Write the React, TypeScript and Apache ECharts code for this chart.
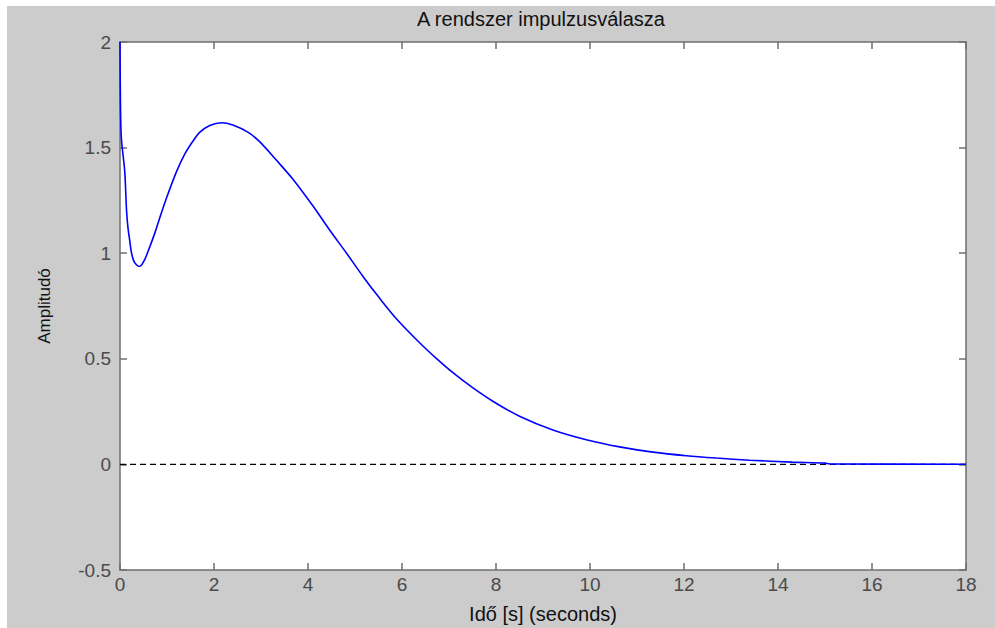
import React, { useEffect, useRef } from "react";
import * as echarts from "echarts";

const titleText = "A rendszer impulzusválasza";
const xAxisName = "Idő [s] (seconds)";
const yAxisName = "Amplitudó";

const timeS = [
  0, 0.01, 0.03, 0.1, 0.14, 0.17, 0.21, 0.24, 0.29, 0.35, 0.4, 0.45, 0.53, 0.6, 0.74, 0.88, 1.02,
  1.2, 1.38, 1.55, 1.7, 1.91, 2.16, 2.4, 2.72, 2.97, 3.33, 3.68, 4.11, 4.46, 4.82, 5.17, 5.53,
  5.88, 6.38, 6.73, 7.09, 7.51, 7.94, 8.5, 9.21, 9.92, 10.63, 11.34, 12.05, 12.69, 13.4, 14.3,
  15.0, 15.1, 18.0,
];
const amplitude = [
  2.0, 1.7, 1.54, 1.39, 1.2, 1.12, 1.055, 1.007, 0.965, 0.945, 0.938, 0.942, 0.972, 1.01, 1.095,
  1.19, 1.28, 1.385, 1.47, 1.53, 1.573, 1.605, 1.618, 1.607, 1.573, 1.528, 1.44, 1.35, 1.222,
  1.11, 1.0, 0.89, 0.785, 0.69, 0.575, 0.502, 0.433, 0.362, 0.298, 0.228, 0.163, 0.117, 0.083,
  0.058, 0.041, 0.03, 0.02, 0.011, 0.006, 0.002, 0.001,
];
const zeroLineX = [0, 18];
const zeroLineY = [0, 0];

const FONT = "'Liberation Sans', Arial, sans-serif";
const AXIS_GRAY = "#6f6f6f";

export default function App() {
  const ref = useRef<HTMLDivElement>(null);

  useEffect(() => {
    if (!ref.current) return;
    const chart = echarts.init(ref.current, undefined, { renderer: "svg" });
    const axisLine = { show: true, onZero: false, lineStyle: { color: AXIS_GRAY, width: 1.5 } };
    const axisTick = { show: true, inside: true, length: 7, lineStyle: { color: AXIS_GRAY, width: 1.5 } };
    chart.setOption({
      animation: false,
      backgroundColor: "transparent",
      title: {
        text: titleText,
        left: 541,
        textAlign: "center",
        top: 9,
        padding: 0,
        textStyle: { fontFamily: FONT, fontSize: 20, fontWeight: "normal", color: "#111" },
      },
      grid: {
        left: 120,
        top: 42,
        right: 29,
        bottom: 58,
        show: true,
        backgroundColor: "#ffffff",
        borderWidth: 0,
        containLabel: false,
        outerBoundsMode: "none",
      },
      xAxis: [
        {
          type: "value",
          position: "bottom",
          min: 0,
          max: 18,
          interval: 2,
          axisLine,
          axisTick,
          splitLine: { show: false },
          axisLabel: { margin: 5, fontFamily: FONT, fontSize: 19, color: "#4a4a4a" },
          name: xAxisName,
          nameLocation: "middle",
          nameGap: 34,
          nameTextStyle: { fontFamily: FONT, fontSize: 20, color: "#111" },
        },
        {
          type: "value",
          position: "top",
          min: 0,
          max: 18,
          interval: 2,
          axisLine,
          axisTick,
          splitLine: { show: false },
          axisLabel: { show: false },
        },
      ],
      yAxis: [
        {
          type: "value",
          position: "left",
          min: -0.5,
          max: 2,
          interval: 0.5,
          axisLine,
          axisTick,
          splitLine: { show: false },
          axisLabel: { margin: 9, fontFamily: FONT, fontSize: 19, color: "#4a4a4a" },
          name: yAxisName,
          nameLocation: "middle",
          nameRotate: 90,
          nameGap: 67,
          nameTextStyle: { fontFamily: FONT, fontSize: 17, color: "#111" },
        },
        {
          type: "value",
          position: "right",
          min: -0.5,
          max: 2,
          interval: 0.5,
          axisLine,
          axisTick,
          splitLine: { show: false },
          axisLabel: { show: false },
        },
      ],
      series: [
        {
          type: "line",
          xAxisIndex: 0,
          yAxisIndex: 0,
          data: zeroLineX.map((x, i) => [x, zeroLineY[i]]),
          showSymbol: false,
          lineStyle: { color: "#000", width: 1.4, type: [6, 4] },
          silent: true,
        },
        {
          type: "line",
          xAxisIndex: 0,
          yAxisIndex: 0,
          data: timeS.map((t, i) => [t, amplitude[i]]),
          showSymbol: false,
          smooth: 0.3,
          lineStyle: { color: "#0000ff", width: 1.6 },
          silent: true,
        },
      ],
    });
    return () => chart.dispose();
  }, []);

  return (
    <div style={{ position: "fixed", left: 0, top: 0, width: 995, height: 628, background: "#ffffff" }}>
      <div style={{ position: "absolute", left: 7, top: 6, width: 988, height: 622, background: "#cccccc" }} />
      <div ref={ref} style={{ position: "absolute", left: 0, top: 0, width: 995, height: 628 }} />
    </div>
  );
}
